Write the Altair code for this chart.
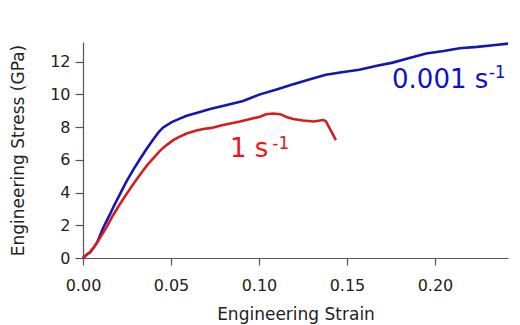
import altair as alt
import pandas as pd

# 0.001 s^-1 curve
blue_strain = [0, 0.002, 0.004, 0.006, 0.008, 0.0115, 0.015, 0.0172, 0.021, 0.0248, 0.0286,
               0.0324, 0.036, 0.04, 0.043, 0.0456, 0.0504, 0.055, 0.0589, 0.065, 0.0722,
               0.08, 0.091, 0.1006, 0.11, 0.119, 0.13, 0.138, 0.147, 0.157, 0.167, 0.176,
               0.185, 0.195, 0.205, 0.214, 0.224, 0.233, 0.2415]
blue_stress = [0, 0.2, 0.35, 0.62, 0.95, 1.85, 2.6, 3.1, 3.9, 4.7, 5.4,
               6.05, 6.65, 7.25, 7.7, 7.98, 8.3, 8.52, 8.69, 8.88, 9.1,
               9.3, 9.6, 10.0, 10.3, 10.6, 10.95, 11.2, 11.35, 11.5, 11.75, 11.94,
               12.2, 12.5, 12.65, 12.82, 12.9, 13.0, 13.1]

# 1 s^-1 curve
red_strain = [0, 0.002, 0.004, 0.006, 0.008, 0.0115, 0.0135, 0.017, 0.021, 0.025, 0.0286,
              0.0325, 0.0362, 0.04, 0.0437, 0.0475, 0.0513, 0.055, 0.0589, 0.064, 0.0684,
              0.073, 0.0778, 0.083, 0.0892, 0.095, 0.1006, 0.104, 0.108, 0.112, 0.116,
              0.1195, 0.125, 0.131, 0.1365, 0.138, 0.1437]
red_stress = [0, 0.2, 0.35, 0.62, 0.95, 1.55, 1.9, 2.6, 3.3, 3.95, 4.52,
              5.1, 5.64, 6.1, 6.55, 6.9, 7.2, 7.42, 7.61, 7.78, 7.88,
              7.95, 8.08, 8.2, 8.34, 8.5, 8.63, 8.78, 8.83, 8.79, 8.6,
              8.49, 8.4, 8.34, 8.43, 8.36, 7.2]

x_ticks = [0.0, 0.05, 0.10, 0.15, 0.20]
y_ticks = [0, 2, 4, 6, 8, 10, 12]

# annotations
ann_main_text = ["0.001 s", "1 s"]
ann_main_x = [0.1756, 0.0835]
ann_main_y = [10.41, 6.15]
ann_main_color = ["#1010CC", "#EE1515"]
ann_main_size = [26, 26]

ann_sup_text = ["-1", "-1"]
ann_sup_x = [0.2305, 0.1076]
ann_sup_y = [11.0, 6.67]
ann_sup_color = ["#1010CC", "#EE1515"]

FONT = "DejaVu Sans"

blue_df = pd.DataFrame({"strain": blue_strain, "stress": blue_stress})
red_df = pd.DataFrame({"strain": red_strain, "stress": red_stress})

xs = alt.Scale(domain=[0, 0.2415], nice=False, zero=False)
ys = alt.Scale(domain=[0, 13.2], nice=False)

xax = alt.Axis(values=x_ticks, format=".2f", title="Engineering Strain", grid=False,
               tickSize=7, labelPadding=12, labelFlush=False, labelOverlap=False,
               titleY=56, titleBaseline="middle")
yax = alt.Axis(values=y_ticks, format="d", title="Engineering Stress (GPa)", grid=False,
               tickSize=8, labelPadding=5, labelOverlap=False, labelFlush=False,
               titleX=-65, titleY=108, titleAngle=270,
               titleAlign="center", titleBaseline="middle")


def X(field):
    return alt.X(field, scale=xs, axis=xax)


def Y(field):
    return alt.Y(field, scale=ys, axis=yax)


blue = alt.Chart(blue_df).mark_line(color="#1515B0", strokeWidth=2.6).encode(
    x=X("strain:Q"), y=Y("stress:Q"), order="strain:Q",
)
red = alt.Chart(red_df).mark_line(color="#D41E1E", strokeWidth=2.6).encode(
    x=X("strain:Q"), y=Y("stress:Q"), order="strain:Q",
)

main_df = pd.DataFrame({"strain": ann_main_x, "stress": ann_main_y, "t": ann_main_text,
                        "c": ann_main_color, "s": ann_main_size})
sup_df = pd.DataFrame({"strain": ann_sup_x, "stress": ann_sup_y, "t": ann_sup_text,
                       "c": ann_sup_color})

main_txt = alt.Chart(main_df).mark_text(align="left", baseline="alphabetic",
                                        font=FONT).encode(
    x=X("strain:Q"), y=Y("stress:Q"), text="t:N",
    color=alt.Color("c:N", scale=None), size=alt.Size("s:Q", scale=None),
)
sup_txt = alt.Chart(sup_df).mark_text(align="left", baseline="alphabetic",
                                      font=FONT, fontSize=17).encode(
    x=X("strain:Q"), y=Y("stress:Q"), text="t:N",
    color=alt.Color("c:N", scale=None),
)

chart = alt.layer(blue, red, main_txt, sup_txt).properties(
    width=425, height=216,
    autosize=alt.AutoSizeParams(type="none"),
    padding={"left": 75, "top": 34, "right": 4, "bottom": 67},
).configure_view(stroke=None).configure_axis(
    domainColor="#555555", tickColor="#555555", domainWidth=1.2, tickWidth=1.2,
    labelFont=FONT, labelFontSize=16, labelColor="#222222",
    titleFont=FONT, titleFontSize=17, titleFontWeight="normal",
    titleColor="#222222",
)

chart.save("out.html", embed_options={"renderer": "svg", "actions": False})
